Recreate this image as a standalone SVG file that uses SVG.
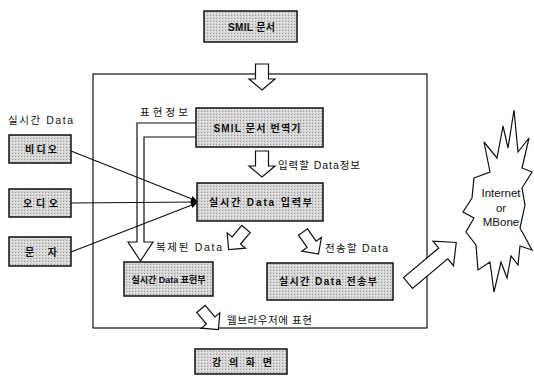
<svg xmlns="http://www.w3.org/2000/svg" width="534" height="378" viewBox="0 0 534 378">
<defs>
<pattern id="dots" width="3" height="3" patternUnits="userSpaceOnUse">
<rect width="3" height="3" fill="#d4d4d4"/>
<rect width="1" height="1" fill="#9a9a9a"/>
<rect x="2" y="1" width="1" height="1" fill="#f2f2f2"/>
</pattern>
<marker id="ah" viewBox="0 0 10 10" refX="10" refY="5" markerWidth="7" markerHeight="6" orient="auto" markerUnits="userSpaceOnUse">
<path d="M0,0 L10,5 L0,10 Z" fill="#000"/>
</marker>
<path id="harrow" d="M-6.5,0 H6.5 V15 H13 L0,26 L-13,15 H-6.5 Z"/>
<path id="sarrow" d="M-5.5,0 H5.5 V15 H12 L0,27 L-12,15 H-5.5 Z"/>
<path id="barrow" d="M-7,0 H7 V46 H16 L0,63 L-16,46 H-7 Z"/>
</defs>
<style>
.box{fill:url(#dots);stroke:#111;stroke-width:1.5}
.bl{font-family:"Liberation Sans","Noto Sans CJK KR",sans-serif;font-size:10px;font-weight:bold;fill:#111;text-anchor:middle}
.lb{font-family:"Liberation Sans","Noto Sans CJK KR",sans-serif;font-size:10.5px;fill:#111}
.ha{fill:#fff;stroke:#111;stroke-width:1.2}
.ln{fill:none;stroke:#111;stroke-width:1.2}
</style>
<rect x="0" y="0" width="534" height="378" fill="#fff"/>

<g id="frame">
<rect x="93" y="74" width="334" height="254" class="ln"/>
</g>

<g id="connectors">
<path class="ln" d="M196,123 H137 V242 H128 L140.5,261 L153,242 H144 V137 H196"/>
<line class="ln" x1="71" y1="151" x2="197" y2="201" marker-end="url(#ah)"/>
<line class="ln" x1="71" y1="203" x2="197" y2="202" marker-end="url(#ah)"/>
<line class="ln" x1="71" y1="252" x2="197" y2="203" marker-end="url(#ah)"/>
<use href="#harrow" class="ha" transform="translate(262,64)"/>
<use href="#harrow" class="ha" transform="translate(262,151)"/>
<use href="#sarrow" class="ha" transform="translate(246,229) rotate(40)"/>
<use href="#sarrow" class="ha" transform="translate(303,232) rotate(-35)"/>
<use href="#sarrow" class="ha" transform="translate(201,309) rotate(-40)"/>
<use href="#barrow" class="ha" transform="translate(408,283) rotate(-130)"/>
</g>

<g id="labels">
<text class="lb" x="8" y="124" textLength="65" lengthAdjust="spacing">실시간 Data</text>
<text class="lb" x="140" y="116" textLength="48" lengthAdjust="spacing">표현정보</text>
<text class="lb" x="278" y="169" textLength="82" lengthAdjust="spacing">입력할 Data정보</text>
<text class="lb" x="156" y="251" textLength="66" lengthAdjust="spacing">복제된 Data</text>
<text class="lb" x="325" y="252" textLength="63" lengthAdjust="spacing">전송할 Data</text>
<text class="lb" x="227" y="324" textLength="85" lengthAdjust="spacing">웹브라우저에 표현</text>
</g>

<g id="smil-doc"><rect class="box" x="204" y="11" width="93" height="31"/><text class="bl" x="251.5" y="30.5" textLength="47" lengthAdjust="spacing">SMIL 문서</text></g>
<g id="translator"><rect class="box" x="196" y="108" width="127" height="39"/><text class="bl" x="257" y="131.5" textLength="87" lengthAdjust="spacing">SMIL 문서 번역기</text></g>
<g id="input"><rect class="box" x="197" y="183" width="126" height="38"/><text class="bl" x="260.5" y="205.5" textLength="103" lengthAdjust="spacing">실시간 Data 입력부</text></g>
<g id="present"><rect class="box" x="124" y="262" width="89" height="34"/><text class="bl" x="168.5" y="282.5" style="font-size:9px">실시간 Data 표현부</text></g>
<g id="transmit"><rect class="box" x="267" y="263" width="126" height="37"/><text class="bl" x="328" y="285" textLength="98" lengthAdjust="spacing">실시간 Data 전송부</text></g>
<g id="screen"><rect class="box" x="195" y="349" width="92" height="25"/><text class="bl" x="242" y="365.5" textLength="60" lengthAdjust="spacing">강 의 화 면</text></g>
<g id="video"><rect class="box" x="9" y="135" width="62" height="28"/><text class="bl" x="41" y="153" textLength="32" lengthAdjust="spacing">비디오</text></g>
<g id="audio"><rect class="box" x="9" y="189" width="62" height="28"/><text class="bl" x="40.5" y="207" textLength="35" lengthAdjust="spacing">오디오</text></g>
<g id="text-node"><rect class="box" x="9" y="237" width="62" height="29"/><text class="bl" x="41" y="255.5" textLength="32" lengthAdjust="spacing">문 자</text></g>

<g id="internet">
<path class="ha" d="M474,178 L490,172 L484,142 L497,158 L503,126 L508,148 L514,110 L518,152 L529,138 L522,168 L532,172 L522,188 L525,205 L520,228 L532,250 L520,246 L518,265 L511,256 L507,278 L501,262 L494,292 L490,262 L478,270 L476,245 L466,232 L474,218 L463,212 L472,198 Z"/>
<text class="lb" x="501" y="197" text-anchor="middle" style="font-size:11.5px">Internet</text>
<text class="lb" x="501" y="212" text-anchor="middle" style="font-size:11.5px">or</text>
<text class="lb" x="501" y="226" text-anchor="middle" style="font-size:11.5px">MBone</text>
</g>
</svg>
